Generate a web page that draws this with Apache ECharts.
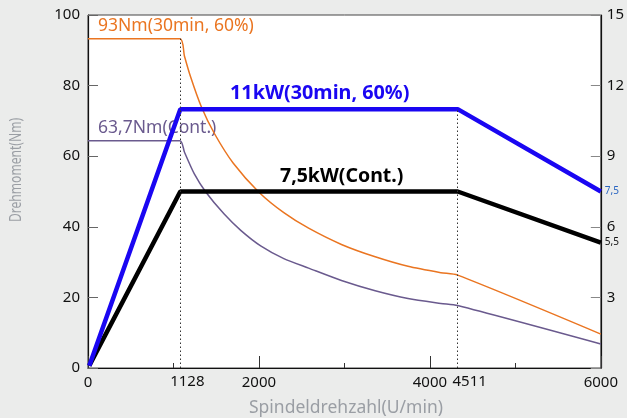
<!DOCTYPE html>
<html>
<head>
<meta charset="utf-8">
<script src="https://cdn.jsdelivr.net/npm/echarts@6/dist/echarts.min.js"></script>
<style>
  html, body { margin: 0; padding: 0; background: #ebeceb; }
  #chart { width: 627px; height: 418px; }
</style>
</head>
<body>
<div id="chart"></div>
<script>
// speed in U/min, torque in Nm (left axis), power in kW (right axis)
const torqueS6 = [
  [0, 93.3], [1075, 93.3], [1128, 88.4], [1200, 82.5], [1326, 74.0], [1477, 66.5],
  [1700, 58.0], [2000, 49.8], [2291, 44.0], [2581, 39.6], [2965, 35.0], [3360, 31.5],
  [3744, 28.8], [4128, 27.0], [4325, 26.3], [6000, 9.6]
]
const torqueS1 = [
  [0, 64.4], [1075, 64.4], [1128, 61.2], [1244, 55.0], [1380, 49.8], [1593, 43.6],
  [1787, 39.0], [2020, 34.6], [2291, 31.0], [2581, 28.3], [2965, 24.8], [3360, 21.9],
  [3744, 19.7], [4128, 18.3], [4325, 17.7], [6000, 6.8]
]
const powerS6 = [[15, 0.1], [1080, 11], [4325, 11], [6000, 7.5]]
const powerS1 = [[15, 0.1], [1080, 7.5], [4325, 7.5], [6000, 5.33]]

// corner speeds: [x, top of dotted line (Nm), label]
const cornerLines = [[1080, 93.3, '1128'], [4325, 73.2, '4511']]
const cornerLabelShift = [7, 12]

const endLabels = ['7,5', '5,5']

const chart = echarts.init(document.getElementById('chart'))

const font = 'Noto Sans'

const option = {
  animation: false,
  backgroundColor: '#ebeceb',
  textStyle: { fontFamily: font },
  grid: {
    left: 88, right: 23, top: 15, bottom: 50,
    show: true, backgroundColor: '#fff', borderColor: '#444', borderWidth: 1
  },
  xAxis: {
    type: 'value',
    min: 0, max: 6000, interval: 2000,
    axisLine: { lineStyle: { color: '#111', width: 1.2 } },
    axisTick: { inside: true, length: 12, lineStyle: { color: '#333' } },
    minorTick: { show: true, splitNumber: 2, length: 5, lineStyle: { color: '#333' } },
    axisLabel: { color: '#111', fontSize: 15, margin: 7, fontFamily: font, formatter: v => String(v) },
    splitLine: { show: false }
  },
  yAxis: [
    {
      type: 'value',
      min: 0, max: 100, interval: 20,
      axisLine: { show: true, lineStyle: { color: '#111', width: 1.2 } },
      axisTick: { show: true, inside: true, length: 10, lineStyle: { color: '#666' } },
      axisLabel: { color: '#111', fontSize: 15, margin: 8, fontFamily: font },
      splitLine: { show: false }
    },
    {
      type: 'value',
      min: 0, max: 15, interval: 3,
      position: 'right',
      axisLine: { show: true, lineStyle: { color: '#111', width: 1.2 } },
      axisTick: { show: true, inside: true, length: 10, lineStyle: { color: '#888' } },
      axisLabel: {
        color: '#111', fontSize: 15, margin: 6, fontFamily: font,
        formatter: v => (v === 0 ? '' : String(v))
      },
      splitLine: { show: false }
    }
  ],
  series: [
    {
      name: '93Nm(30min, 60%)',
      type: 'line',
      data: torqueS6,
      yAxisIndex: 0,
      showSymbol: false,
      smooth: 0.25,
      lineStyle: { color: '#ea7521', width: 1.5 },
      markLine: {
        silent: true,
        symbol: 'none',
        lineStyle: { type: [1.5, 2.5], color: '#333', width: 1 },
        data: cornerLines.map((c, i) => [
          {
            coord: [c[0], 0],
            label: {
              show: true, position: 'start', formatter: c[2], distance: 6,
              offset: [cornerLabelShift[i], 0],
              color: '#111', fontSize: 15, fontFamily: font
            }
          },
          { coord: [c[0], c[1]] }
        ])
      }
    },
    {
      name: '63,7Nm(Cont.)',
      type: 'line',
      data: torqueS1,
      yAxisIndex: 0,
      showSymbol: false,
      smooth: 0.25,
      lineStyle: { color: '#6a5a8e', width: 1.5 }
    },
    {
      name: '7,5kW(Cont.)',
      type: 'line',
      data: powerS1,
      yAxisIndex: 1,
      showSymbol: false,
      lineStyle: { color: '#000', width: 4.5 },
      endLabel: {
        show: true, formatter: endLabels[1], distance: 4,
        color: '#111', fontSize: 10, fontFamily: font
      }
    },
    {
      name: '11kW(30min, 60%)',
      type: 'line',
      data: powerS6,
      yAxisIndex: 1,
      showSymbol: false,
      lineStyle: { color: '#1a06f2', width: 4.5 },
      endLabel: {
        show: true, formatter: endLabels[0], distance: 4,
        color: '#2a66c2', fontSize: 10, fontFamily: font
      }
    }
  ],
  graphic: [
    {
      type: 'text', x: 98, y: 26,
      style: { text: '93Nm(30min, 60%)', fill: '#ea7521', font: '17.5px "Noto Sans"', textVerticalAlign: 'middle' }
    },
    {
      type: 'text', x: 98, y: 128,
      style: { text: '63,7Nm(Cont.)', fill: '#6a5a8e', font: '17.5px "Noto Sans"', textVerticalAlign: 'middle' }
    },
    {
      type: 'text', x: 230, y: 93,
      style: { text: '11kW(30min, 60%)', fill: '#1a06f2', font: 'bold 19.8px "Noto Sans"', textVerticalAlign: 'middle' }
    },
    {
      type: 'text', x: 280, y: 176,
      style: { text: '7,5kW(Cont.)', fill: '#000', font: 'bold 19.5px "Noto Sans"', textVerticalAlign: 'middle' }
    },
    {
      type: 'text', x: 17, y: 170, rotation: Math.PI / 2, scaleX: 0.78,
      style: { text: 'Drehmoment(Nm)', fill: '#9a9ea4', font: '15.5px "Noto Sans"', textAlign: 'center', textVerticalAlign: 'middle' }
    },
    {
      type: 'text', x: 346, y: 408,
      style: { text: 'Spindeldrehzahl(U/min)', fill: '#9a9ea4', font: '17.5px "Noto Sans"', textAlign: 'center', textVerticalAlign: 'middle' }
    }
  ]
}

chart.setOption(option)
</script>
</body>
</html>
